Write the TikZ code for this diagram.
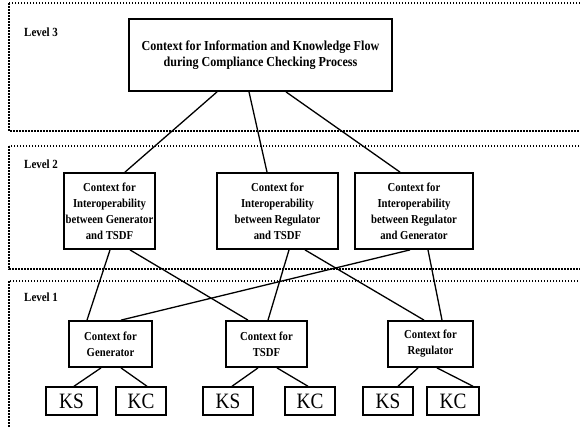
\documentclass[tikz,border=0pt]{standalone}
\usepackage{fontspec}
\setmainfont{Liberation Serif}
\newfontfamily\boxfont[FakeStretch=0.88]{Liberation Serif}
\begin{document}
\begin{tikzpicture}[x=1bp,y=-1bp,
  levelbox/.style={line width=1.2bp,dash pattern=on 1.5bp off 1.5bp},
  levellabel/.style={anchor=west,font=\boxfont\fontsize{12.5}{13}\selectfont\bfseries,inner sep=0pt},
  ctx/.style={draw,line width=1.8bp,rectangle,align=center,inner sep=0pt,
    font=\boxfont\fontsize{12.2}{16}\selectfont\bfseries},
  kbox/.style={draw,line width=1.5bp,rectangle,inner sep=0pt,minimum width=50bp,minimum height=28bp,
    font=\boxfont\fontsize{22}{24}\selectfont},
  conn/.style={line width=1.3bp}]
\useasboundingbox (0,0) rectangle (580,427);
\begin{scope}
\clip (0,0) rectangle (580,427);
\draw[levelbox] (9,3) rectangle (600,131);
\draw[levelbox] (9,146) rectangle (600,269);
\draw[levelbox] (9,281) rectangle (600,450);
\end{scope}
\node[levellabel] (lv3) at (24,32) {Level 3};
\node[levellabel] (lv2) at (24,164) {Level 2};
\node[levellabel] (lv1) at (24,297) {Level 1};

\node[ctx,minimum width=263bp,minimum height=72bp,font=\boxfont\fontsize{13.8}{15.5}\selectfont\bfseries] (L3) at (260.5,55)
  {Context for Information and Knowledge Flow\\during Compliance Checking Process};

\node[ctx,minimum width=91bp,minimum height=76bp] (A) at (109.5,211)
  {Context for\\Interoperability\\between Generator\\and TSDF};
\node[ctx,minimum width=121bp,minimum height=76bp] (B) at (277.5,211)
  {Context for\\Interoperability\\between Regulator\\and TSDF};
\node[ctx,minimum width=118bp,minimum height=76bp] (C) at (414,211)
  {Context for\\Interoperability\\between Regulator\\and Generator};

\node[ctx,minimum width=83bp,minimum height=46bp] (G) at (110.5,344) {Context for\\Generator};
\node[ctx,minimum width=81bp,minimum height=46bp] (T) at (266.5,344) {Context for\\TSDF};
\node[ctx,minimum width=85bp,minimum height=46bp] (R) at (430.5,344) {Context for\\Regulator};

\node[kbox,minimum width=51bp] (KS1) at (71.5,401) {KS};
\node[kbox] (KC1) at (141,401) {KC};
\node[kbox] (KS2) at (228,401) {KS};
\node[kbox] (KC2) at (310,401) {KC};
\node[kbox] (KS3) at (388,401) {KS};
\node[kbox,minimum width=52bp] (KC3) at (453,401) {KC};

\draw[conn] ([xshift=-43.5bp]L3.south) -- ([xshift=15.5bp]A.north);
\draw[conn] ([xshift=-11.5bp]L3.south) -- ([xshift=-10.5bp]B.north);
\draw[conn] ([xshift=25.5bp]L3.south) -- ([xshift=-14bp]C.north);

\draw[conn] ([xshift=0.5bp]A.south) -- ([xshift=-23.5bp]G.north);
\draw[conn] ([xshift=20.5bp]A.south) -- ([xshift=-18.5bp]T.north);
\draw[conn] ([xshift=11.5bp]B.south) -- ([xshift=1.5bp]T.north);
\draw[conn] ([xshift=27.5bp]B.south) -- ([xshift=-6.5bp]R.north);
\draw[conn] ([xshift=-4bp]C.south) -- ([xshift=10.5bp]G.north);
\draw[conn] ([xshift=14bp]C.south) -- ([xshift=11.5bp]R.north);

\draw[conn] ([xshift=-9.5bp]G.south) -- ([xshift=2.5bp]KS1.north);
\draw[conn] ([xshift=10.5bp]G.south) -- ([xshift=6bp]KC1.north);
\draw[conn] ([xshift=-8.5bp]T.south) -- ([xshift=4bp]KS2.north);
\draw[conn] ([xshift=10.5bp]T.south) -- ([xshift=-2bp]KC2.north);
\draw[conn] ([xshift=-12.5bp]R.south) -- ([xshift=10bp]KS3.north);
\draw[conn] ([xshift=6.5bp]R.south) -- ([xshift=20bp]KC3.north);
\end{tikzpicture}
\end{document}
